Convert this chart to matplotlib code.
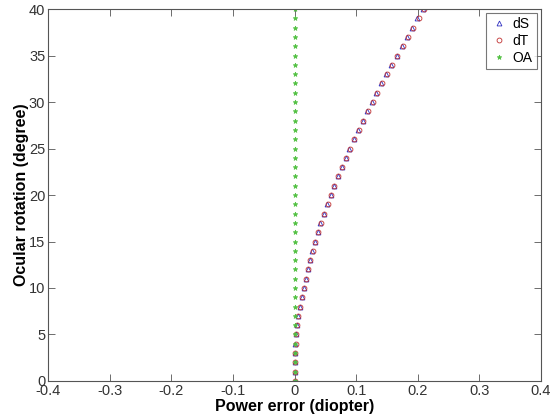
import numpy as np
import matplotlib.pyplot as plt

plt.rcParams['font.family'] = ['Liberation Sans', 'DejaVu Sans']

# ocular rotation (degree)
rotation = list(range(0, 41))

# power error (diopter)
dS = [0.0, 0.0, 0.0, 0.0005, 0.0016, 0.0027, 0.0035, 0.0062, 0.0090, 0.0118,
      0.0146, 0.0179, 0.0214, 0.0250, 0.0290, 0.0330, 0.0375, 0.0420, 0.0475, 0.0530,
      0.0585, 0.0640, 0.0700, 0.0765, 0.0830, 0.0890, 0.0960, 0.1030, 0.1105, 0.1180,
      0.1255, 0.1330, 0.1410, 0.1490, 0.1570, 0.1655, 0.1740, 0.1825, 0.1910, 0.1995,
      0.2080]
dT = [0.0, 0.0, 0.0, 0.0006, 0.0017, 0.0028, 0.0037, 0.0064, 0.0092, 0.0121,
      0.0149, 0.0182, 0.0218, 0.0254, 0.0294, 0.0335, 0.0380, 0.0426, 0.0481, 0.0537,
      0.0592, 0.0648, 0.0708, 0.0774, 0.0839, 0.0900, 0.0970, 0.1041, 0.1116, 0.1192,
      0.1268, 0.1343, 0.1424, 0.1504, 0.1585, 0.1671, 0.1757, 0.1842, 0.1928, 0.2014,
      0.2100]
OA = [0.0] * 41

fig = plt.figure(figsize=(5.55, 4.19), dpi=100)
ax = fig.add_axes([0.0865, 0.0907, 0.8883, 0.8878])

ax.plot(dS, rotation, '^', ms=3.5, mfc='none', mec='#3030c0', mew=0.6, label='dS', linestyle='none')
ax.plot(dT, rotation, 'o', ms=3.5, mfc='none', mec='#c03030', mew=0.6, label='dT', linestyle='none')
ax.plot(OA, rotation, '*', ms=3.5, color='#50c040', mew=0.5, label='OA', linestyle='none')

ax.set_xlim(-0.4, 0.4)
ax.set_ylim(0, 40)
ax.set_xticks(np.arange(-0.4, 0.41, 0.1))
ax.set_xticklabels(['-0.4', '-0.3', '-0.2', '-0.1', '0', '0.1', '0.2', '0.3', '0.4'])
ax.set_yticks(range(0, 41, 5))

axcol = '#555555'
for s in ax.spines.values():
    s.set_color(axcol)
    s.set_linewidth(0.8)
ax.tick_params(direction='in', top=True, right=True, length=5, width=0.6,
               color=axcol, labelcolor='#333333', labelsize=10.5, pad=2)

ax.set_xlabel('Power error (diopter)', fontsize=11.5, fontweight='bold', labelpad=1)
ax.set_ylabel('Ocular rotation (degree)', fontsize=11.5, fontweight='bold', labelpad=0)

leg = ax.legend(loc='upper right', fontsize=10, frameon=True, fancybox=False,
                borderpad=0.3, handletextpad=0.4, handlelength=1.2, labelspacing=0.2,
                borderaxespad=0.3, markerscale=1.0)
leg.get_frame().set_edgecolor(axcol)
leg.get_frame().set_linewidth(0.8)

fig.savefig('out.png', dpi=100)
